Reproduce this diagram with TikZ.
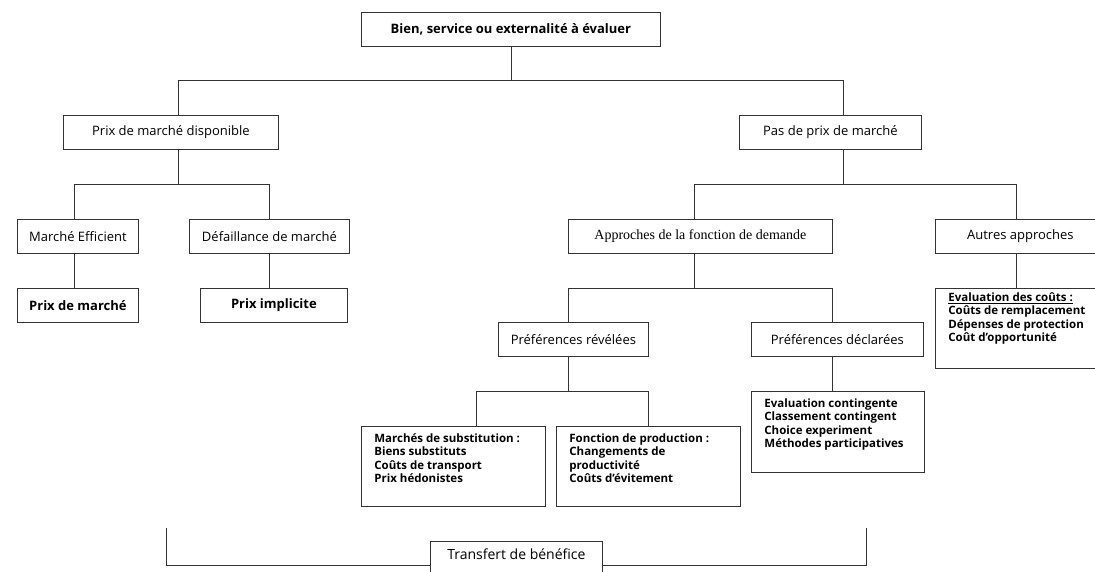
\documentclass[tikz,border=0pt]{standalone}
\usepackage{fontspec}
\setmainfont{Open Sans}
\newfontfamily\timesfont{Liberation Serif}

\tikzset{
  box/.style={draw=black!80, line width=0.8pt, anchor=north west, minimum height=34pt,
    inner sep=0pt, font=\fontsize{13}{15}\selectfont},
  boldbox/.style={box, font=\fontsize{13}{15}\selectfont\bfseries},
  listbox/.style={draw=black!80, line width=0.8pt, anchor=north west, inner xsep=13pt,
    inner ysep=7pt, font=\fontsize{11.5}{13.5}\selectfont\bfseries},
  link/.style={draw=black!80, line width=0.8pt},
}
\newcommand{\boxtext}[3]{\parbox[c][#1][t]{#2}{\raggedright #3}}

\begin{document}
\begin{tikzpicture}[x=1pt,y=-1pt]
  \fill[white] (0,0) rectangle (1095,572);
  \useasboundingbox (0,0) rectangle (1095,572);
  % junction points of the tree
  \coordinate (j1a) at (178,80);  \coordinate (j1b) at (843,80);
  \coordinate (j2a) at (74,184);  \coordinate (j2b) at (269,184);
  \coordinate (j3a) at (694,184); \coordinate (j3b) at (1016,184);
  \coordinate (j4a) at (568,288); \coordinate (j4b) at (832,288);
  \coordinate (j5a) at (476,391); \coordinate (j5b) at (648,391);
  \coordinate (t1) at (166,528);  \coordinate (t2) at (866,528);

  % boxes
  \node[boldbox, minimum width=299pt] (bien) at (361,12) {Bien, service ou externalité à évaluer};
  \node[box, minimum width=215pt] (dispo) at (63,115) {Prix de marché disponible};
  \node[box, minimum width=182pt] (pasprix) at (739,115) {Pas de prix de marché};
  \node[box, minimum width=121pt] (efficient) at (17,219) {Marché Efficient};
  \node[box, minimum width=160pt] (defaillance) at (189,219) {Défaillance de marché};
  \node[boldbox, minimum width=121pt] (prixmarche) at (17,288) {Prix de marché};
  \node[boldbox, minimum width=147pt] (implicite) at (200,288) {Prix implicite};
  \node[box, minimum width=264pt, font=\timesfont\fontsize{14}{16}\selectfont] (demande) at (568,219)
    {Approches de la fonction de demande};
  \node[box, minimum width=170pt] (autres) at (935,219) {Autres approches};
  \node[listbox, inner ysep=4pt] (couts) at (935,288)
    {\boxtext{72pt}{150pt}{\underline{Evaluation des coûts :}\\ Coûts de remplacement\\
     Dépenses de protection\\ Coût d’opportunité}};
  \node[box, minimum width=150pt] (revelees) at (498,322) {Préférences révélées};
  \node[box, minimum width=172pt] (declarees) at (751,322) {Préférences déclarées};
  \node[listbox] (substitution) at (361,426)
    {\boxtext{66pt}{158pt}{Marchés de substitution :\\ Biens substituts\\
     Coûts de transport\\ Prix hédonistes}};
  \node[listbox] (production) at (556,426)
    {\boxtext{66pt}{158pt}{Fonction de production :\\ Changements de\\
     productivité\\ Coûts d’évitement}};
  \node[listbox] (methodes) at (751,391)
    {\boxtext{67pt}{147pt}{Evaluation contingente\\ Classement contingent\\
     Choice experiment\\ Méthodes participatives}};
  \node[box, minimum width=172pt, minimum height=0pt, inner ysep=3pt, text height=15pt,
    text depth=30pt, font=\fontsize{14}{16}\selectfont] (transfert) at (430,541)
    {Transfert de bénéfice};

  % links
  \draw[link] (bien.south) -- (bien.south |- j1a);
  \draw[link] (dispo.north -| j1a) |- (j1b) -- (pasprix.north -| j1b);
  \draw[link] (dispo.south -| j1a) -- (j1a |- j2a);
  \draw[link] (efficient.north -| j2a) |- (j2b) -- (defaillance.north -| j2b);
  \draw[link] (efficient.south -| j2a) -- (prixmarche.north -| j2a);
  \draw[link] (defaillance.south -| j2b) -- (implicite.north -| j2b);
  \draw[link] (pasprix.south -| j1b) -- (j1b |- j3a);
  \draw[link] (demande.north -| j3a) |- (j3b) -- (autres.north -| j3b);
  \draw[link] (autres.south -| j3b) -- (couts.north -| j3b);
  \draw[link] (demande.south -| j3a) -- (j3a |- j4a);
  \draw[link] (revelees.north -| j4a) |- (j4b) -- (declarees.north -| j4b);
  \draw[link] (revelees.south -| j4a) -- (j4a |- j5a);
  \draw[link] (substitution.north -| j5a) |- (j5b) -- (production.north -| j5b);
  \draw[link] (declarees.south -| j4b) -- (methodes.north -| j4b);
  \draw[link] (t1) |- ([yshift=-24pt]transfert.north west);
  \draw[link] (t2) |- ([yshift=-24pt]transfert.north east);
\end{tikzpicture}
\end{document}
